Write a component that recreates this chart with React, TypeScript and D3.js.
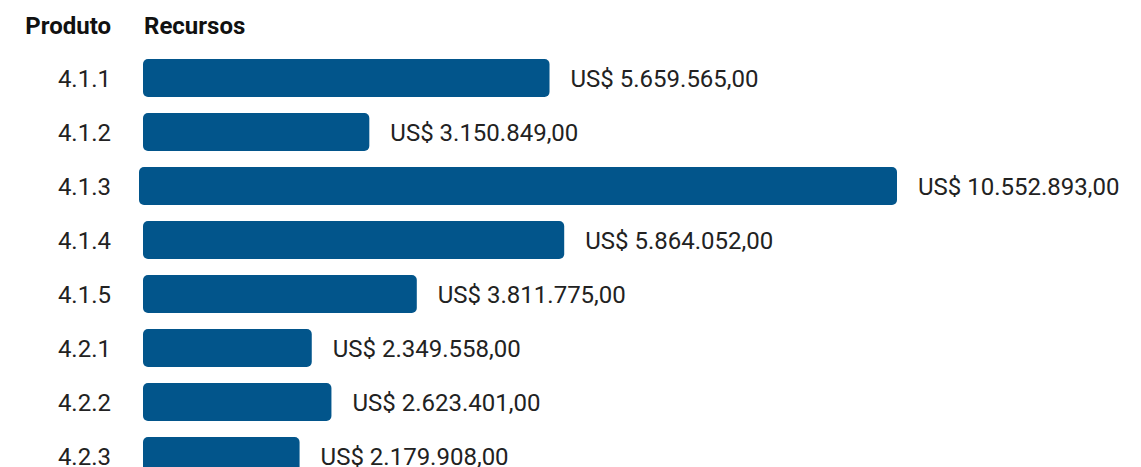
import React from "react";
import * as d3 from "d3";

const categories = ["4.1.1", "4.1.2", "4.1.3", "4.1.4", "4.1.5", "4.2.1", "4.2.2", "4.2.3"];
const values = [5659565, 3150849, 10552893, 5864052, 3811775, 2349558, 2623401, 2179908];
const headers = ["Produto", "Recursos"];
const highlighted = "4.1.3";

const W = 1141;
const H = 467;

const fmt = (v: number) =>
  "US$ " +
  d3.format(",.2f")(v).replace(/,/g, "#").replace(/\./g, ",").replace(/#/g, ".");

export default function App() {
  const x = d3.scaleLinear().domain([0, d3.max(values)!]).range([143, 901]);
  const y = d3
    .scaleBand<string>()
    .domain(categories)
    .range([51, 51 + 54 * categories.length])
    .paddingInner(16 / 54)
    .paddingOuter(8 / 54);
  const bw = y.bandwidth();
  const fs = 24;
  return (
    <svg
      width={W}
      height={H}
      style={{ position: "absolute", left: 0, top: 0, fontFamily: "Roboto" }}
    >
      <text x={111} y={34} textAnchor="end" fontSize={24} fontWeight="bold" fill="#111">
        {headers[0]}
      </text>
      <text x={144} y={34} fontSize={24} fontWeight="bold" fill="#111">
        {headers[1]}
      </text>
      {categories.map((c, i) => {
        const y0 = y(c)!;
        const cy = y0 + bw / 2;
        const shift = c === highlighted ? -4 : 0;
        const x1 = x(values[i]) + shift;
        return (
          <g key={c}>
            <text x={111} y={cy + 0.355 * fs} textAnchor="end" fontSize={fs} fill="#222">
              {c}
            </text>
            <rect
              x={x(0) + shift}
              y={y0}
              width={x(values[i]) - x(0)}
              height={bw}
              rx={5}
              ry={5}
              fill="#02558B"
            />
            <text x={x1 + 21} y={cy + 0.355 * fs} fontSize={fs} fill="#222">
              {fmt(values[i])}
            </text>
          </g>
        );
      })}
    </svg>
  );
}
